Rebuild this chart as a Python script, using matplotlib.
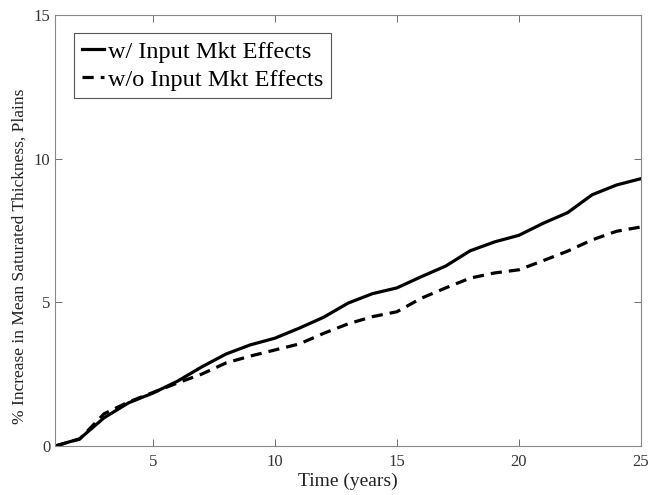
import numpy as np
import matplotlib.pyplot as plt

plt.rcParams['font.family'] = ['Liberation Serif', 'DejaVu Serif']

years = np.arange(1, 26)
with_mkt = [0, 0.25, 0.98, 1.5, 1.84, 2.25, 2.75, 3.2, 3.52, 3.75,
            4.1, 4.48, 4.97, 5.3, 5.5, 5.89, 6.26, 6.79, 7.1, 7.33,
            7.75, 8.12, 8.74, 9.08, 9.3]
without_mkt = [0, 0.24, 1.12, 1.53, 1.86, 2.19, 2.5, 2.89, 3.13, 3.34,
               3.55, 3.92, 4.25, 4.5, 4.67, 5.14, 5.5, 5.84, 6.02, 6.13,
               6.45, 6.78, 7.17, 7.47, 7.62]

fig = plt.figure(figsize=(6.5, 4.95), dpi=100)
ax = fig.add_axes([0.085, 0.099, 0.901, 0.871])

ax.plot(years, with_mkt, color='black', lw=2.3, label='w/ Input Mkt Effects')
ax.plot(years, without_mkt, color='black', lw=2.3, ls=(0, (3.5, 2.2)),
        label='w/o Input Mkt Effects')

ax.set_xlim(1, 25)
ax.set_ylim(0, 15)
ax.set_xticks([5, 10, 15, 20, 25])
ax.set_yticks([0, 5, 10, 15])
ax.tick_params(direction='in', top=True, right=True, labelsize=12,
               colors='#555555', labelcolor='#333333', length=5, width=0.6)
ax.tick_params(axis='x', pad=6)
for s in ax.spines.values():
    s.set_color('#888888')
    s.set_linewidth(0.8)

ax.set_xlabel('Time (years)', fontsize=14, color='#222222', labelpad=2)
ax.set_ylabel('% Increase in Mean Saturated Thickness, Plains', fontsize=12.5,
              color='#222222')
ax.yaxis.set_label_coords(-0.047, 0.44)

leg = ax.legend(loc='upper left', fontsize=17.5, handlelength=0.9,
                handletextpad=0.2, borderpad=0.3, labelspacing=0.25,
                fancybox=False, framealpha=1, edgecolor='#555555',
                bbox_to_anchor=(0.012, 0.985))
leg.get_frame().set_linewidth(0.8)

plt.savefig('out.png', dpi=100)
